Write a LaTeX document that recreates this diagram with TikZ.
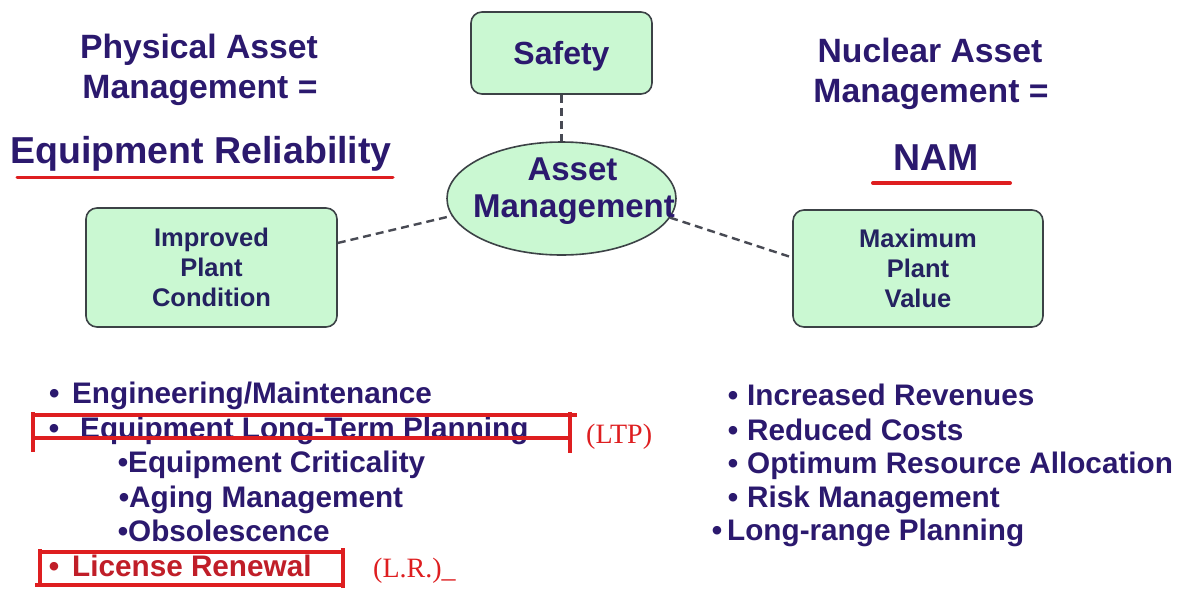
\documentclass[tikz,border=0pt]{standalone}
\usepackage{fontspec}
\setmainfont{Liberation Sans}
\newfontfamily\notefont{Liberation Serif}
\usetikzlibrary{shapes.geometric}

\definecolor{ink}{RGB}{43,25,110}
\definecolor{boxink}{RGB}{36,34,96}
\definecolor{mint}{RGB}{202,248,210}
\definecolor{edgegray}{RGB}{60,66,70}
\definecolor{redmark}{RGB}{222,30,32}
\definecolor{redtext}{RGB}{192,30,40}
\definecolor{linkgray}{RGB}{72,74,84}

\tikzset{
  tHead/.style={inner sep=0pt, anchor=base, text=ink, font=\bfseries\fontsize{33.7}{40}\selectfont},
  tBig/.style={inner sep=0pt, anchor=base, text=ink, font=\bfseries\fontsize{37.5}{44}\selectfont},
  tItem/.style={inner sep=0pt, anchor=base west, text=ink, font=\bfseries\fontsize{29.7}{34}\selectfont},
  tNote/.style={inner sep=0pt, anchor=base west, text=redmark, font=\notefont\fontsize{28}{32}\selectfont},
  panel/.style={draw=edgegray, line width=1.6pt, fill=mint, rounded corners=11pt,
    text=boxink, font=\bfseries\fontsize{25.5}{30}\selectfont, align=center, inner sep=0pt},
  hub/.style={ellipse, draw=edgegray, line width=1.6pt, fill=mint, inner sep=0pt,
    minimum width=229pt, minimum height=113pt},
  dashlink/.style={draw=linkgray, line width=2.4pt, dash pattern=on 8pt off 5pt},
  redline/.style={draw=redmark, line width=3.6pt},
}

\begin{document}
\begin{tikzpicture}[x=1pt, y=-1pt]
\useasboundingbox (0,0) rectangle (1198,590);
\fill[white] (0,0) rectangle (1198,590);

% left heading
\node[tHead] (pa1) at (199,58) {Physical Asset};
\node[tHead] (pa2) at (200,98) {Management =};
\node[tBig] (er) at (201,163) {Equipment Reliability};
\draw[redline, line width=3pt, line cap=round] (17,177) -- (393,177);

% right heading
\node[tHead] (na1) at (930,62) {Nuclear Asset};
\node[tHead] (na2) at (931,102) {Management =};
\node[tBig] (nam) at (936,170) {NAM};
\draw[redline, line width=4pt, line cap=round] (873,183) -- (1010,183);

% central diagram
\node[panel, minimum width=181pt, minimum height=82pt, text=ink, text depth=0pt,
      font=\bfseries\fontsize{32}{36}\selectfont] (safety) at (561.5,53) {Safety};
\node[hub] (am) at (561.5,198.5) {};
\node[tHead, font=\bfseries\fontsize{33}{38}\selectfont] (am1) at (572.5,180) {Asset};
\node[tHead, font=\bfseries\fontsize{33}{38}\selectfont] (am2) at (574,217) {Management};
\node[panel, minimum width=251pt, minimum height=119pt] (ipc) at (211.5,267.5) {Improved\\Plant\\Condition};
\node[panel, minimum width=250pt, minimum height=117pt] (mpv) at (918,268.5) {Maximum\\Plant\\Value};

\draw[dashlink] (safety.south) -- (am.north);
\draw[dashlink] (ipc.11.5) -- (am.189);
\draw[dashlink] (am.350) -- (mpv.175);

% left list
\node[tItem] (l1) at (72,403) {\llap{•\hspace{12.8pt}}Engineering/Maintenance};
\node[tItem] (l2) at (80,438) {\llap{•\hspace{21pt}}Equipment Long-Term Planning};
\node[tItem] (l3) at (128,472) {\llap{•}Equipment Criticality};
\node[tItem] (l4) at (129,507) {\llap{•}Aging Management};
\node[tItem] (l5) at (128,541) {\llap{•}Obsolescence};
\node[tItem, text=redtext] (l6) at (72,576) {\llap{•\hspace{13pt}}License Renewal};

\node[tNote] (ltp) at (586,443) {(LTP)};
\node[tNote] (lr) at (373,577) {(L.R.)\_};

% red marks round the two items
\draw[redline] (33,415) -- (577,415);
\draw[redline] (33,438) -- (570,438);
\draw[redline] (33,412) -- (33,452);
\draw[redline] (570,412) -- (570,453);
\draw[redline] (40,552) -- (343,552);
\draw[redline] (35,585) -- (343,585);
\draw[redline] (40,549) -- (40,587);
\draw[redline] (343,548) -- (343,588);

% right list
\node[tItem] (r1) at (747,405) {\llap{•\hspace{9pt}}Increased Revenues};
\node[tItem] (r2) at (747,440) {\llap{•\hspace{9pt}}Reduced Costs};
\node[tItem] (r3) at (747,473) {\llap{•\hspace{9pt}}Optimum Resource Allocation};
\node[tItem] (r4) at (747,507) {\llap{•\hspace{9pt}}Risk Management};
\node[tItem] (r5) at (727,540) {\llap{•\hspace{5pt}}Long-range Planning};
\end{tikzpicture}
\end{document}
